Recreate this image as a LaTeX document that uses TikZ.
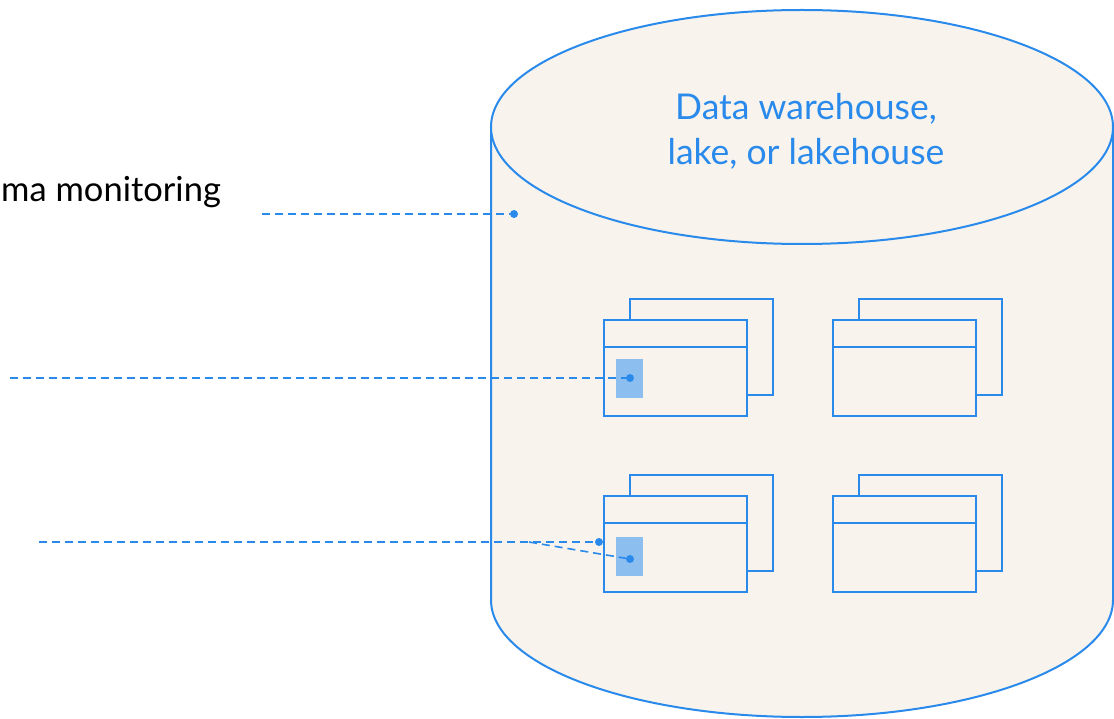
\documentclass[tikz,border=0pt]{standalone}
\usepackage{fontspec}
\setmainfont{Lato}
\usetikzlibrary{positioning}
\definecolor{wareblue}{RGB}{42,138,236}
\definecolor{markblue}{RGB}{141,190,240}
\definecolor{warepaper}{RGB}{248,244,237}
\tikzset{
  store wall/.style={draw=wareblue, line width=2pt, fill=warepaper},
  table sheet/.style={
    rectangle, draw=wareblue, line width=2pt, fill=warepaper,
    minimum width=143pt, minimum height=96pt, inner sep=0pt, anchor=north west
  },
  field mark/.style={rectangle, fill=markblue, minimum width=27pt, minimum height=39pt, inner sep=0pt},
  probe dot/.style={circle, fill=wareblue, minimum size=8pt, inner sep=0pt},
  probe line/.style={wareblue, line width=1.6pt, dash pattern=on 8pt off 5pt}
}

\begin{document}
\begin{tikzpicture}[x=1pt, y=-1pt]
    \useasboundingbox (0,0) rectangle (1114,719);
    % warehouse cylinder
    \draw[store wall] (491,127) -- (491,600) arc[start angle=180, end angle=360, x radius=311pt, y radius=117pt] -- (1113,127);
    \draw[store wall] (802,127) ellipse [x radius=311pt, y radius=117pt];
    \node[text=wareblue, font=\fontsize{35.5}{45}\selectfont, align=center] (warehouse) at (806,131) {Data warehouse,\\lake, or lakehouse};
    % tables
    \foreach \tx/\ty/\nm in {603/319/ta, 832/319/tb, 603/495/tc, 832/495/td} {
      \node[table sheet] (\nm back) at (\tx+26,\ty-21) {};
      \node[table sheet] (\nm) at (\tx,\ty) {};
      \draw[wareblue, line width=2pt] ([yshift=-28pt]\nm.north west) -- ([yshift=-28pt]\nm.north east);
    }
    \node[field mark, anchor=north west] (fielda) at (616,359) {};
    \node[field mark, anchor=north west] (fieldc) at (616,537) {};
    % probes
    \node[probe dot] (schemadot) at (514,214) {};
    \node[probe dot] (fielddot) at (630,378) {};
    \node[probe dot] (tabledot) at (599,542) {};
    \node[probe dot] (rowdot) at (630,559) {};
    \node[anchor=base west, inner sep=0pt, font=\fontsize{34.5}{40}\selectfont] (schema) at (1,202) {ma monitoring};
    \coordinate (schemaend) at (262,214);
    \coordinate (fieldend) at (10,378);
    \coordinate (tableend) at (39,542);
    \coordinate (split) at (529,542);
    \draw[probe line] (schemaend) -- (schemadot);
    \draw[probe line] (fieldend) -- (fielddot);
    \draw[probe line] (tableend) -- (tabledot);
    \draw[probe line] (split) -- (rowdot);
  \end{tikzpicture}
\end{document}
